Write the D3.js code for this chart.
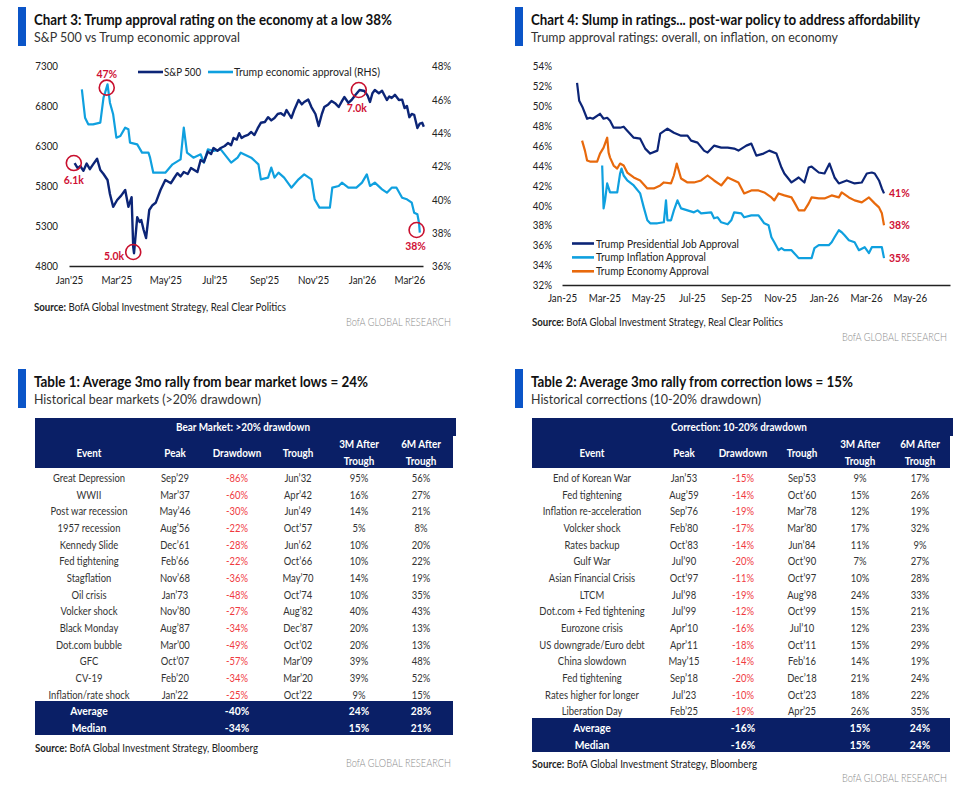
<!DOCTYPE html>
<html><head><meta charset="utf-8">
<script src="https://cdn.jsdelivr.net/npm/d3@7"></script>
<style>
body{margin:0;background:#fff;}
svg{display:block;font-family:Lato,"Open Sans",sans-serif;}
</style></head><body>
<svg id="c" width="977" height="793"></svg>
<script>
// ---------------- DATA ----------------
const spxSeries = [
["2025-01-08",6087],["2025-01-12",6020],["2025-01-15",6050],["2025-01-19",5990],["2025-01-23",6080],["2025-01-27",6010],["2025-01-31",6070],["2025-02-05",6140],["2025-02-09",6000],["2025-02-13",5950],["2025-02-18",5875],["2025-02-21",5700],["2025-02-25",5540],["2025-03-02",5625],["2025-03-07",5680],["2025-03-12",5750],["2025-03-16",5540],["2025-03-20",5660],["2025-03-22",5040],["2025-03-23",4960],["2025-03-27",5410],["2025-03-30",5350],["2025-04-01",5375],["2025-04-04",5250],["2025-04-07",5150],["2025-04-11",5500],["2025-04-15",5560],["2025-04-19",5590],["2025-04-25",5750],["2025-05-01",5875],["2025-05-08",5835],["2025-05-12",5900],["2025-05-16",5960],["2025-05-20",5920],["2025-05-24",5975],["2025-05-29",5950],["2025-06-02",6025],["2025-06-06",6000],["2025-06-10",5975],["2025-06-14",6125],["2025-06-18",6100],["2025-06-23",6230],["2025-06-27",6200],["2025-06-30",6275],["2025-07-05",6240],["2025-07-09",6275],["2025-07-14",6300],["2025-07-18",6337],["2025-07-22",6310],["2025-07-25",6400],["2025-07-29",6380],["2025-08-01",6460],["2025-08-04",6400],["2025-08-07",6420],["2025-08-12",6440],["2025-08-16",6475],["2025-08-20",6437],["2025-08-24",6520],["2025-08-28",6590],["2025-09-02",6600],["2025-09-06",6660],["2025-09-10",6620],["2025-09-14",6650],["2025-09-18",6700],["2025-09-22",6710],["2025-09-26",6680],["2025-09-29",6750],["2025-10-02",6700],["2025-10-05",6650],["2025-10-09",6760],["2025-10-14",6875],["2025-10-18",6820],["2025-10-21",6850],["2025-10-26",6880],["2025-10-30",6787],["2025-11-04",6700],["2025-11-08",6550],["2025-11-12",6700],["2025-11-15",6787],["2025-11-20",6820],["2025-11-24",6862],["2025-11-29",6830],["2025-12-03",6787],["2025-12-07",6860],["2025-12-10",6912],["2025-12-15",6840],["2025-12-19",6875],["2025-12-24",6940],["2025-12-29",7000],["2026-01-04",6987],["2026-01-08",6930],["2026-01-11",6850],["2026-01-14",6960],["2026-01-17",7000],["2026-01-22",6960],["2026-01-26",6990],["2026-02-01",6875],["2026-02-04",6920],["2026-02-07",6900],["2026-02-11",6940],["2026-02-16",6875],["2026-02-20",6880],["2026-02-23",6775],["2026-02-26",6800],["2026-03-01",6660],["2026-03-04",6700],["2026-03-07",6690],["2026-03-11",6525],["2026-03-14",6580],["2026-03-17",6590],["2026-03-19",6540]
];
const econApproval3 = [
["2025-01-17",46.6],["2025-01-21",44.9],["2025-01-25",44.5],["2025-01-31",44.5],["2025-02-09",44.6],["2025-02-13",46.1],["2025-02-15",46.4],["2025-02-18",46.9],["2025-02-21",45.8],["2025-02-25",45.1],["2025-03-01",43.7],["2025-03-06",43.8],["2025-03-12",44.3],["2025-03-16",44.2],["2025-03-18",43.4],["2025-03-27",43.3],["2025-04-02",42.8],["2025-04-10",42.8],["2025-04-12",42.5],["2025-04-16",41.6],["2025-05-01",41.6],["2025-05-10",42.1],["2025-05-20",42.4],["2025-05-24",44.3],["2025-05-28",42.8],["2025-06-05",42.5],["2025-06-14",42.7],["2025-06-18",42.2],["2025-06-23",43.0],["2025-06-30",42.9],["2025-07-09",43.0],["2025-07-22",42.2],["2025-07-30",42.5],["2025-08-03",42.8],["2025-08-16",42.5],["2025-08-25",42.1],["2025-08-28",41.2],["2025-09-06",41.3],["2025-09-10",41.9],["2025-09-14",41.3],["2025-09-19",41.6],["2025-09-26",41.3],["2025-10-05",40.7],["2025-10-14",41.2],["2025-10-21",41.5],["2025-10-30",41.2],["2025-11-03",40.0],["2025-11-09",39.5],["2025-11-22",39.5],["2025-11-25",40.7],["2025-12-03",40.8],["2025-12-07",41.0],["2025-12-15",40.7],["2025-12-25",40.7],["2026-01-01",41.0],["2026-01-07",41.5],["2026-01-11",40.8],["2026-01-17",41.0],["2026-01-26",40.6],["2026-02-01",40.4],["2026-02-07",40.7],["2026-02-13",40.7],["2026-02-20",40.1],["2026-02-26",40.0],["2026-03-04",39.8],["2026-03-07",39.2],["2026-03-11",39.1],["2026-03-13",38.6],["2026-03-14",38.0]
];
const chart3Annotations = [
  {date:"2025-02-17", value:46.7, axis:"R", label:"47%",  dx:0,   dy:-14, anchor:"middle"},
  {date:"2025-01-07", value:6087, axis:"L", label:"6.1k", dx:0,   dy:17,  anchor:"middle"},
  {date:"2025-03-22", value:4975, axis:"L", label:"5.0k", dx:-9,  dy:4,   anchor:"end"},
  {date:"2025-12-28", value:7000, axis:"L", label:"7.0k", dx:-2,  dy:18,  anchor:"middle"},
  {date:"2026-03-10", value:38.16,axis:"R", label:"38%",  dx:-1,  dy:16,  anchor:"middle"}
];
const leftTicks3 = [4800,5300,5800,6300,6800,7300];
const rightTicks3 = [36,38,40,42,44,46,48];

const jobApproval = [
["2025-01-22",52.3],["2025-01-25",50.5],["2025-01-30",49.8],["2025-02-05",48.7],["2025-02-09",48.8],["2025-02-13",48.7],["2025-02-23",49.2],["2025-02-28",48.7],["2025-03-05",48.8],["2025-03-09",48.5],["2025-03-14",47.8],["2025-03-23",47.8],["2025-03-28",47.9],["2025-04-02",47.5],["2025-04-11",46.8],["2025-04-20",46.7],["2025-04-27",45.7],["2025-05-04",45.2],["2025-05-14",45.5],["2025-05-18",47.2],["2025-05-28",47.7],["2025-06-06",47.3],["2025-06-16",47.0],["2025-06-25",47.0],["2025-06-30",46.5],["2025-07-09",46.3],["2025-07-18",45.5],["2025-07-23",45.3],["2025-08-01",46.0],["2025-08-11",45.8],["2025-08-20",45.8],["2025-08-29",45.7],["2025-09-04",45.5],["2025-09-15",46.0],["2025-09-22",46.2],["2025-09-29",45.0],["2025-10-09",45.2],["2025-10-17",45.5],["2025-10-27",45.2],["2025-11-03",43.8],["2025-11-07",43.2],["2025-11-17",42.3],["2025-11-27",42.8],["2025-12-05",42.3],["2025-12-11",43.8],["2025-12-15",43.9],["2025-12-25",43.3],["2026-01-02",43.2],["2026-01-09",44.2],["2026-01-16",42.8],["2026-01-22",42.2],["2026-02-02",42.5],["2026-02-13",42.2],["2026-02-23",42.3],["2026-03-02",43.2],["2026-03-09",43.3],["2026-03-13",43.2],["2026-03-19",42.5],["2026-03-23",41.7],["2026-03-26",41.2]
];
const inflationApproval = [
["2025-02-26",44.0],["2025-02-28",39.7],["2025-03-02",40.5],["2025-03-05",42.2],["2025-03-09",41.3],["2025-03-19",41.3],["2025-03-23",43.2],["2025-03-25",43.7],["2025-03-28",43.0],["2025-04-02",42.5],["2025-04-11",42.0],["2025-04-20",41.2],["2025-04-25",39.8],["2025-04-30",38.5],["2025-05-04",38.2],["2025-05-14",38.2],["2025-05-23",38.3],["2025-05-26",40.5],["2025-05-28",38.5],["2025-06-02",38.5],["2025-06-06",39.5],["2025-06-11",40.5],["2025-06-16",39.7],["2025-06-25",39.5],["2025-07-04",39.3],["2025-07-09",39.5],["2025-07-14",39.2],["2025-07-28",39.3],["2025-08-01",38.7],["2025-08-06",38.8],["2025-08-11",38.3],["2025-08-20",38.1],["2025-08-25",38.5],["2025-08-29",39.3],["2025-09-08",39.2],["2025-09-12",38.8],["2025-09-22",39.0],["2025-10-02",39.0],["2025-10-10",38.2],["2025-10-16",38.0],["2025-10-20",36.8],["2025-10-24",36.3],["2025-10-30",35.5],["2025-11-03",35.7],["2025-11-07",35.5],["2025-11-17",35.5],["2025-11-27",34.7],["2025-12-15",34.7],["2025-12-19",35.7],["2025-12-25",36.0],["2026-01-08",36.0],["2026-01-12",36.3],["2026-01-16",36.8],["2026-01-22",37.5],["2026-01-26",37.3],["2026-01-30",37.0],["2026-02-05",36.5],["2026-02-13",36.3],["2026-02-19",35.5],["2026-02-27",35.8],["2026-03-05",35.2],["2026-03-09",35.8],["2026-03-23",35.8],["2026-03-26",34.7]
];
const economyApproval = [
["2025-01-29",46.5],["2025-02-02",45.5],["2025-02-05",44.5],["2025-02-09",44.4],["2025-02-19",44.4],["2025-02-23",45.2],["2025-02-28",45.8],["2025-03-05",46.8],["2025-03-07",45.3],["2025-03-09",44.8],["2025-03-14",44.0],["2025-03-19",43.7],["2025-03-23",44.2],["2025-03-28",44.0],["2025-04-02",43.3],["2025-04-11",42.8],["2025-04-20",42.5],["2025-04-30",41.7],["2025-05-09",41.7],["2025-05-18",42.0],["2025-05-23",42.3],["2025-06-02",42.2],["2025-06-06",43.0],["2025-06-10",44.2],["2025-06-16",42.7],["2025-06-25",42.3],["2025-07-04",42.3],["2025-07-14",42.5],["2025-07-23",43.0],["2025-08-01",42.5],["2025-08-11",42.0],["2025-08-20",42.8],["2025-08-29",42.5],["2025-09-04",42.3],["2025-09-12",41.2],["2025-09-22",41.5],["2025-10-02",41.5],["2025-10-10",41.3],["2025-10-20",40.8],["2025-10-24",40.5],["2025-10-30",41.2],["2025-11-07",41.0],["2025-11-17",40.8],["2025-11-21",40.3],["2025-11-27",39.5],["2025-12-05",39.5],["2025-12-11",40.2],["2025-12-15",40.8],["2025-12-25",40.7],["2026-01-02",40.7],["2026-01-12",41.0],["2026-01-22",40.8],["2026-01-26",41.3],["2026-02-05",40.8],["2026-02-13",40.5],["2026-02-23",40.3],["2026-03-05",40.8],["2026-03-13",40.2],["2026-03-19",39.8],["2026-03-23",39.2],["2026-03-26",38.0]
];
const chart4Series = ["Trump Presidential Job Approval","Trump Inflation Approval","Trump Economy Approval"];
const chart4EndLabels = ["41%","35%","38%"];
const yTicks4 = [32,34,36,38,40,42,44,46,48,50,52,54];

const tableColumns = ["Event","Peak","Drawdown","Trough","3M After|Trough","6M After|Trough"];
const bearEvents = ["Great Depression","WWII","Post war recession","1957 recession","Kennedy Slide","Fed tightening","Stagflation","Oil crisis","Volcker shock","Black Monday","Dot.com bubble","GFC","CV-19","Inflation/rate shock"];
const bearPeaks = ["Sep’29","Mar’37","May’46","Aug’56","Dec’61","Feb’66","Nov’68","Jan’73","Nov’80","Aug’87","Mar’00","Oct’07","Feb’20","Jan’22"];
const bearDrawdowns = [-86,-60,-30,-22,-28,-22,-36,-48,-27,-34,-49,-57,-34,-25];
const bearTroughs = ["Jun’32","Apr’42","Jun’49","Oct’57","Jun’62","Oct’66","May’70","Oct’74","Aug’82","Dec’87","Oct’02","Mar’09","Mar’20","Oct’22"];
const bear3M = [95,16,14,5,10,10,14,10,40,20,20,39,39,9];
const bear6M = [56,27,21,8,20,22,19,35,43,13,13,48,52,15];
const bearSummary = [["Average",-40,24,28],["Median",-34,15,21]];

const corrEvents = ["End of Korean War","Fed tightening","Inflation re-acceleration","Volcker shock","Rates backup","Gulf War","Asian Financial Crisis","LTCM","Dot.com + Fed tightening","Eurozone crisis","US downgrade/Euro debt","China slowdown","Fed tightening","Rates higher for longer","Liberation Day"];
const corrPeaks = ["Jan’53","Aug’59","Sep’76","Feb’80","Oct’83","Jul’90","Oct’97","Jul’98","Jul’99","Apr’10","Apr’11","May’15","Sep’18","Jul’23","Feb’25"];
const corrDrawdowns = [-15,-14,-19,-17,-14,-20,-11,-19,-12,-16,-18,-14,-20,-10,-19];
const corrTroughs = ["Sep’53","Oct’60","Mar’78","Mar’80","Jun’84","Oct’90","Oct’97","Aug’98","Oct’99","Jul’10","Oct’11","Feb’16","Dec’18","Oct’23","Apr’25"];
const corr3M = [9,15,12,17,11,7,10,24,15,12,15,14,21,18,26];
const corr6M = [17,26,19,32,9,27,28,33,21,23,29,19,24,22,35];
const corrSummary = [["Average",-16,15,24],["Median",-16,15,24]];

// ---------------- HELPERS ----------------
const parse = d3.timeParse("%Y-%m-%d");
const svg = d3.select("#c");
const NAVY = "#0a1f66", LINE_NAVY = "#0c2577", LIGHT = "#0fa0df", ORANGE = "#e8690c", RED = "#cf1034";

function condense(sel, k){
  sel.each(function(){
    const w = this.getComputedTextLength();
    if (w > 0){ this.setAttribute("textLength", (w*k).toFixed(1)); this.setAttribute("lengthAdjust","spacingAndGlyphs"); }
  });
  return sel;
}
function fitTo(sel, w){ return sel.attr("textLength", w).attr("lengthAdjust","spacingAndGlyphs"); }

function heading(x, yTop, title, sub, tw, sw){
  svg.append("rect").attr("x", x-16).attr("y", yTop).attr("width", 8).attr("height", 39).attr("fill", "#0b55c8");
  fitTo(svg.append("text").attr("x", x).attr("y", yTop+18).attr("font-size", 14.5).attr("font-weight", 700).attr("fill", "#111").text(title), tw);
  fitTo(svg.append("text").attr("x", x).attr("y", yTop+35).attr("font-size", 14).attr("font-weight", 400).attr("fill", "#333").text(sub), sw);
}
function source(x, y, rest, w){
  const t = svg.append("text").attr("x", x).attr("y", y).attr("font-size", 10.5).attr("fill", "#222");
  t.append("tspan").attr("font-weight", 700).text("Source:");
  t.append("tspan").attr("font-weight", 400).text(" " + rest);
  fitTo(t, w);
}
function brand(xRight, y){
  fitTo(svg.append("text").attr("x", xRight).attr("y", y).attr("text-anchor", "end").attr("font-size", 11).attr("font-weight", 300).attr("fill", "#8c8c8c").text("BofA GLOBAL RESEARCH"), 105);
}
const toPts = arr => arr.map(d => ({date: parse(d[0]), v: d[1]}));

// ---------------- CHART 3 ----------------
heading(34, 7, "Chart 3: Trump approval rating on the economy at a low 38%", "S&P 500 vs Trump economic approval", 358, 206);
const x3 = d3.scaleTime().domain([parse("2025-01-01"), parse("2026-03-18")]).range([69, 423]);
const yL = d3.scaleLinear().domain([4800, 7300]).range([266, 66]);
const yR = d3.scaleLinear().domain([36, 48]).range([266, 66]);

const gx3 = svg.append("g").attr("transform", "translate(0,266)")
  .call(d3.axisBottom(x3).ticks(d3.timeMonth.every(2)).tickFormat(d3.timeFormat("%b'%y")).tickSize(0).tickSizeOuter(0).tickPadding(11));
gx3.select(".domain").attr("stroke", "#222").attr("stroke-width", 1.6);
gx3.selectAll("text").attr("font-size", 10.5).attr("fill", "#222").attr("font-family", "Lato").call(condense, 0.93);

const gl3 = svg.append("g").attr("transform", "translate(62,0)")
  .call(d3.axisLeft(yL).tickValues(leftTicks3).tickFormat(d3.format("d")).tickSize(0).tickPadding(4));
gl3.select(".domain").remove();
gl3.selectAll("text").attr("font-size", 10.5).attr("fill", "#222").attr("font-family", "Lato").attr("dy", "0.35em").call(condense, 0.93);

const gr3 = svg.append("g").attr("transform", "translate(428,0)")
  .call(d3.axisRight(yR).tickValues(rightTicks3).tickFormat(d => d + "%").tickSize(0).tickPadding(4));
gr3.select(".domain").remove();
gr3.selectAll("text").attr("font-size", 10.5).attr("fill", "#222").attr("font-family", "Lato").attr("dy", "0.35em").call(condense, 0.93);

svg.append("path").datum(toPts(econApproval3)).attr("fill", "none").attr("stroke", LIGHT).attr("stroke-width", 2.2).attr("stroke-linejoin", "round")
  .attr("d", d3.line().x(d => x3(d.date)).y(d => yR(d.v)));
svg.append("path").datum(toPts(spxSeries)).attr("fill", "none").attr("stroke", LINE_NAVY).attr("stroke-width", 2.4).attr("stroke-linejoin", "round")
  .attr("d", d3.line().x(d => x3(d.date)).y(d => yL(d.v)));

// legend
const leg3 = [{name:"S&P 500", color:LINE_NAVY, x:138, w:37},{name:"Trump economic approval (RHS)", color:LIGHT, x:208, w:146}];
leg3.forEach(l => {
  svg.append("line").attr("x1", l.x).attr("x2", l.x+25).attr("y1", 72).attr("y2", 72).attr("stroke", l.color).attr("stroke-width", 2.6);
  fitTo(svg.append("text").attr("x", l.x+26).attr("y", 76).attr("font-size", 11).attr("fill", "#222").text(l.name), l.w);
});
// annotations
chart3Annotations.forEach(a => {
  const cx = x3(parse(a.date)), cy = a.axis === "L" ? yL(a.value) : yR(a.value);
  svg.append("circle").attr("cx", cx).attr("cy", cy).attr("r", 7.5).attr("fill", "none").attr("stroke", "#c8102e").attr("stroke-width", 1.6);
  condense(svg.append("text").attr("x", cx + a.dx).attr("y", cy + a.dy).attr("dy", "0.35em").attr("text-anchor", a.anchor)
    .attr("font-size", 11).attr("font-weight", 700).attr("fill", RED).text(a.label), 0.95);
});
source(34, 311, "BofA Global Investment Strategy, Real Clear Politics", 252);
brand(451, 326);

// ---------------- CHART 4 ----------------
heading(531, 7, "Chart 4: Slump in ratings... post-war policy to address affordability", "Trump approval ratings: overall, on inflation, on economy", 389, 307);
const x4 = d3.scaleTime().domain([parse("2025-01-01"), parse("2026-06-26")]).range([562, 950]);
const y4 = d3.scaleLinear().domain([32, 54]).range([285, 66]);
const gx4 = svg.append("g").attr("transform", "translate(0,285)")
  .call(d3.axisBottom(x4).ticks(d3.timeMonth.every(2)).tickFormat(d3.timeFormat("%b-%y")).tickSize(0).tickSizeOuter(0).tickPadding(10));
gx4.select(".domain").attr("stroke", "#222").attr("stroke-width", 1.6);
gx4.selectAll("text").attr("font-size", 10.5).attr("fill", "#222").attr("font-family", "Lato").call(condense, 0.93);
const gy4 = svg.append("g").attr("transform", "translate(556,0)")
  .call(d3.axisLeft(y4).tickValues(yTicks4).tickFormat(d => d + "%").tickSize(0).tickPadding(4));
gy4.select(".domain").remove();
gy4.selectAll("text").attr("font-size", 10.5).attr("fill", "#222").attr("font-family", "Lato").attr("dy", "0.35em").call(condense, 0.93);

const series4 = [
  {name: chart4Series[0], data: toPts(jobApproval), color: LINE_NAVY, end: chart4EndLabels[0]},
  {name: chart4Series[1], data: toPts(inflationApproval), color: LIGHT, end: chart4EndLabels[1]},
  {name: chart4Series[2], data: toPts(economyApproval), color: ORANGE, end: chart4EndLabels[2]}
];
const line4 = d3.line().x(d => x4(d.date)).y(d => y4(d.v));
[series4[1], series4[2], series4[0]].forEach(s => {
  svg.append("path").datum(s.data).attr("fill", "none").attr("stroke", s.color).attr("stroke-width", 2.2).attr("stroke-linejoin", "round").attr("d", line4);
  const last = s.data[s.data.length - 1];
  condense(svg.append("text").attr("x", x4(last.date) + 5).attr("y", y4(last.v)).attr("dy", "0.35em")
    .attr("font-size", 11).attr("font-weight", 700).attr("fill", RED).text(s.end), 0.95);
});
const legW4 = [143, 110, 113];
series4.forEach((s, i) => {
  const yy = 243.5 + i*13.9;
  svg.append("line").attr("x1", 572).attr("x2", 594).attr("y1", yy).attr("y2", yy).attr("stroke", s.color).attr("stroke-width", 2.6);
  fitTo(svg.append("text").attr("x", 596).attr("y", yy + 4).attr("font-size", 11).attr("fill", "#222").text(s.name), legW4[i]);
});
source(532, 326, "BofA Global Investment Strategy, Real Clear Politics", 251);
brand(947, 341);

// ---------------- TABLES ----------------
function table(opt){
  const {x0, x1, cols, headerTitle, rows, summary, footTop} = opt;
  svg.append("rect").attr("x", x0).attr("y", 418).attr("width", x1 - x0 + 3).attr("height", 18).attr("fill", NAVY);
  svg.append("rect").attr("x", x0).attr("y", 435).attr("width", x1 - x0).attr("height", 33).attr("fill", NAVY);
  condense(svg.append("text").attr("x", opt.titleX).attr("y", 427).attr("dy", "0.35em").attr("text-anchor", "middle")
    .attr("font-size", 11.5).attr("font-weight", 700).attr("fill", "#fff").text(headerTitle), 0.86);
  tableColumns.forEach((c, i) => {
    const parts = c.split("|");
    parts.forEach((p, j) => {
      const yy = parts.length === 1 ? 453 : 444 + j*17;
      condense(svg.append("text").attr("x", cols[i]).attr("y", yy).attr("dy", "0.35em").attr("text-anchor", "middle")
        .attr("font-size", 11.5).attr("font-weight", 700).attr("fill", "#fff").text(p), 0.86);
    });
  });
  rows.forEach((r, ri) => {
    const yy = 478 + ri*16.66;
    r.forEach((v, ci) => {
      condense(svg.append("text").attr("x", cols[ci]).attr("y", yy).attr("dy", "0.35em").attr("text-anchor", "middle")
        .attr("font-size", 11.5).attr("font-weight", 400).attr("fill", ci === 2 ? "#f03a3f" : "#333").text(v), 0.82);
    });
  });
  svg.append("rect").attr("x", x0).attr("y", footTop).attr("width", x1 - x0).attr("height", 34).attr("fill", NAVY);
  summary.forEach((s, si) => {
    const yy = footTop + 10 + si*16.66;
    const cells = [[0, s[0]], [2, s[1] + "%"], [4, s[2] + "%"], [5, s[3] + "%"]];
    cells.forEach(([ci, v]) => {
      condense(svg.append("text").attr("x", cols[ci]).attr("y", yy).attr("dy", "0.35em").attr("text-anchor", "middle")
        .attr("font-size", 12).attr("font-weight", 700).attr("fill", "#fff").text(v), 0.86);
    });
  });
}
const pct = v => v + "%";

heading(34, 369, "Table 1: Average 3mo rally from bear market lows = 24%", "Historical bear markets (>20% drawdown)", 334, 227);
table({x0:35, x1:453, titleX:243, cols:[89,175,237,298,359,421], headerTitle:"Bear Market: >20% drawdown",
  rows: bearEvents.map((e, i) => [e, bearPeaks[i], pct(bearDrawdowns[i]), bearTroughs[i], pct(bear3M[i]), pct(bear6M[i])]),
  summary: bearSummary, footTop: 701});
source(35, 752, "BofA Global Investment Strategy, Bloomberg", 223);
brand(451, 767);

heading(531, 369, "Table 2: Average 3mo rally from correction lows = 15%", "Historical corrections (10-20% drawdown)", 322, 230);
table({x0:532, x1:950, titleX:739, cols:[592,684,743,802,860,920], headerTitle:"Correction: 10-20% drawdown",
  rows: corrEvents.map((e, i) => [e, corrPeaks[i], pct(corrDrawdowns[i]), corrTroughs[i], pct(corr3M[i]), pct(corr6M[i])]),
  summary: corrSummary, footTop: 718});
source(532, 768, "BofA Global Investment Strategy, Bloomberg", 225);
brand(947, 782);
</script></body></html>
